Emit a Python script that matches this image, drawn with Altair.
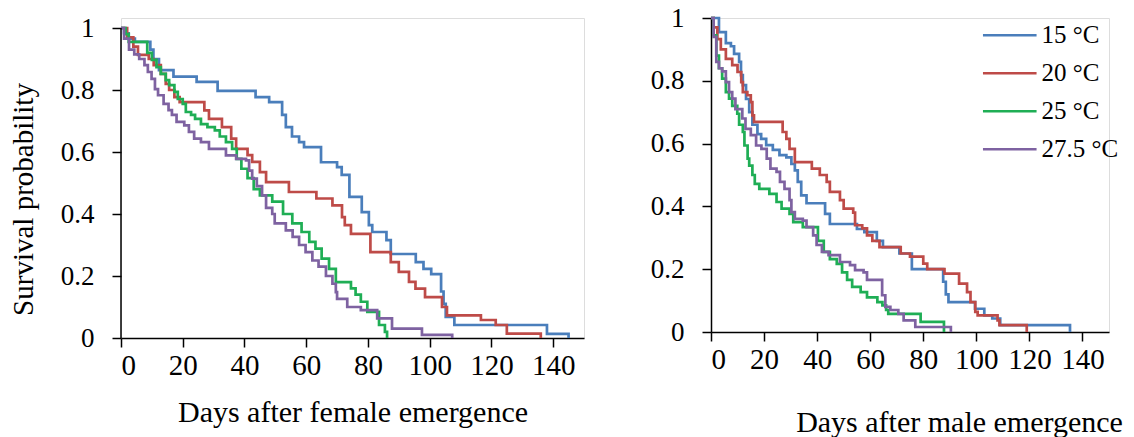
import altair as alt
import pandas as pd

series_labels = ["15 °C", "20 °C", "25 °C", "27.5 °C"]
series_colors = ["#4A7EBB", "#BE4B48", "#1FAE55", "#7E62A1"]
x_ticks = [0, 20, 40, 60, 80, 100, 120, 140]
y_ticks = [0, 0.2, 0.4, 0.6, 0.8, 1]

# ---------------- females ----------------
f15_days = [0, 1, 2.5, 4.5, 9.5, 10.5, 12.3, 17, 24.5, 31.3, 43.6, 48, 52.2, 53.4, 55.4, 57.7, 59.3, 64.8,
            70, 71.5, 74, 78, 80.3, 81.4, 86, 87.4, 95.5, 98, 100.5, 103.7, 104.5, 105.2, 108, 138, 145]
f15_surv = [1.0, 0.983, 0.966, 0.955, 0.93, 0.9, 0.864, 0.843, 0.826, 0.797, 0.777, 0.761, 0.72, 0.68, 0.65,
            0.632, 0.616, 0.567, 0.551, 0.526, 0.455, 0.406, 0.364, 0.342, 0.316, 0.271, 0.245, 0.223, 0.206,
            0.15, 0.11, 0.068, 0.042, 0.013, 0.0]

f20_days = [0, 2, 4, 5.5, 9, 10.6, 12.9, 14.5, 15.6, 17.3, 19, 27, 28.5, 32.7, 35.7, 37.3, 41, 42.5, 45, 47,
            54.4, 63.3, 68.5, 71.6, 72.5, 74.5, 80.8, 87.4, 90, 93.3, 95.4, 98.5, 104, 105.6, 116.6, 121.4,
            125, 136]
f20_surv = [1.0, 0.97, 0.94, 0.913, 0.9, 0.88, 0.852, 0.82, 0.8, 0.777, 0.761, 0.734, 0.707, 0.68, 0.643, 0.61,
            0.59, 0.568, 0.535, 0.503, 0.471, 0.45, 0.428, 0.39, 0.364, 0.336, 0.277, 0.245, 0.213, 0.181,
            0.159, 0.132, 0.1, 0.073, 0.058, 0.042, 0.014, 0.0]

f25_days = [0, 1.5, 2.5, 8.5, 10, 11.5, 12.9, 14.5, 15.6, 17.3, 18.4, 20, 21, 22.7, 24, 25.9, 28, 30.4, 32,
            34, 36, 37.5, 39, 41, 43, 45, 49, 52.5, 55.5, 58.5, 61, 63, 65, 67.4, 69.6, 74.5, 76, 77.7, 79.8,
            83.6, 85.5, 86.2]
f25_surv = [1.0, 0.98, 0.955, 0.92, 0.897, 0.874, 0.852, 0.832, 0.816, 0.794, 0.771, 0.755, 0.729, 0.72, 0.707,
            0.69, 0.68, 0.67, 0.65, 0.632, 0.61, 0.578, 0.546, 0.516, 0.48, 0.46, 0.44, 0.4, 0.37, 0.342, 0.31,
            0.288, 0.256, 0.223, 0.18, 0.16, 0.14, 0.117, 0.084, 0.042, 0.02, 0.0]

f27_days = [0, 1, 2.6, 4.3, 5.9, 7.6, 8.7, 9.9, 11, 12, 13.8, 15.4, 16.5, 18, 20.5, 22, 23.7, 25.9, 28.5, 34,
            37.3, 40.5, 41.5, 42.5, 44, 45.7, 47, 49, 49.8, 53.4, 55.6, 57.7, 59.8, 62, 64, 66.4, 68.5, 69.6,
            70, 73.3, 77.7, 83, 87.8, 97.5, 107.3]
f27_surv = [1.0, 0.966, 0.93, 0.915, 0.9, 0.88, 0.858, 0.836, 0.803, 0.783, 0.755, 0.735, 0.72, 0.697, 0.686,
            0.665, 0.643, 0.632, 0.61, 0.589, 0.578, 0.573, 0.54, 0.514, 0.49, 0.46, 0.42, 0.4, 0.37, 0.347,
            0.326, 0.3, 0.277, 0.25, 0.23, 0.2, 0.175, 0.148, 0.126, 0.1, 0.09, 0.063, 0.03, 0.01, 0.0]

# ---------------- males ----------------
m15_days = [0, 3, 5.6, 7.5, 8.7, 10.6, 11.3, 12, 13.2, 14.4, 15.6, 17.5, 18.9, 20.8, 23.3, 25.8, 28.4, 30.3,
            31.6, 32.7, 34, 36, 43, 44.8, 55, 57.8, 62.5, 64.8, 71, 75.7, 87.5, 88.5, 89.5, 99.5, 103, 106,
            109, 135.3]
m15_surv = [1.0, 0.955, 0.92, 0.91, 0.886, 0.86, 0.818, 0.786, 0.742, 0.7, 0.66, 0.63, 0.615, 0.595, 0.58,
            0.563, 0.556, 0.535, 0.515, 0.478, 0.435, 0.41, 0.376, 0.344, 0.328, 0.318, 0.29, 0.27, 0.25, 0.2,
            0.16, 0.12, 0.095, 0.074, 0.053, 0.043, 0.022, 0.0]

m20_days = [0, 1, 2.4, 3.7, 5.6, 8, 10, 11.4, 12, 13.7, 15, 15.6, 16.2, 27, 28.4, 29.6, 31.6, 38, 41, 43.6,
            44.8, 48.6, 50, 53.6, 54.3, 57, 58.8, 60.8, 63.5, 71.5, 75, 80, 81.5, 88, 93.5, 96.5, 97.8, 99.6,
            100.5, 108, 108.7, 119]
m20_surv = [1.0, 0.97, 0.933, 0.9, 0.87, 0.85, 0.828, 0.796, 0.764, 0.754, 0.732, 0.69, 0.669, 0.637, 0.615,
            0.583, 0.541, 0.52, 0.5, 0.478, 0.446, 0.42, 0.393, 0.38, 0.34, 0.33, 0.308, 0.29, 0.27, 0.25,
            0.24, 0.218, 0.2, 0.186, 0.154, 0.127, 0.095, 0.064, 0.053, 0.037, 0.022, 0.0]

m25_days = [0, 1, 2, 3, 4.2, 5.6, 6.8, 8, 9.9, 10.6, 12, 12.6, 13.8, 14.4, 15.6, 16.5, 18.2, 22, 24.7, 26.6,
            29.6, 31, 34.6, 40.3, 42.5, 44.8, 47.4, 49.4, 51.3, 53.2, 56.4, 58.8, 62.7, 64.6, 66, 66.8, 79,
            87.8]
m25_surv = [1.0, 0.945, 0.88, 0.84, 0.807, 0.764, 0.743, 0.72, 0.695, 0.66, 0.637, 0.594, 0.552, 0.53, 0.5,
            0.472, 0.456, 0.44, 0.414, 0.393, 0.376, 0.35, 0.334, 0.29, 0.255, 0.232, 0.217, 0.19, 0.166,
            0.144, 0.127, 0.11, 0.095, 0.085, 0.07, 0.058, 0.032, 0.0]

m27_days = [0, 1, 2, 3, 4.2, 5.6, 6.8, 8, 9.2, 11.8, 13, 15, 17, 19, 21, 22.4, 24.7, 26, 27.7, 29.6, 30.3,
            31.6, 34.6, 36, 38.5, 39.8, 41.8, 44.3, 48.6, 52.4, 54.3, 57.5, 58.8, 64.5, 65.7, 67.6, 70.6, 72.6,
            77, 90.4]
m27_surv = [1.0, 0.94, 0.86, 0.84, 0.83, 0.796, 0.764, 0.743, 0.71, 0.68, 0.647, 0.627, 0.594, 0.583, 0.552,
            0.52, 0.51, 0.478, 0.456, 0.42, 0.382, 0.36, 0.355, 0.334, 0.308, 0.277, 0.255, 0.245, 0.223,
            0.213, 0.197, 0.19, 0.166, 0.117, 0.08, 0.07, 0.058, 0.037, 0.016, 0.0]


def build(days_lists, surv_lists):
    rows = []
    for lab, ds, ss in zip(series_labels, days_lists, surv_lists):
        for i, (d, s) in enumerate(zip(ds, ss)):
            rows.append({"series": lab, "day": d, "surv": s, "ord": i})
    return pd.DataFrame(rows)


fem = build([f15_days, f20_days, f25_days, f27_days], [f15_surv, f20_surv, f25_surv, f27_surv])
mal = build([m15_days, m20_days, m25_days, m27_days], [m15_surv, m20_surv, m25_surv, m27_surv])

FONT = "Liberation Serif"
color = alt.Color("series:N", scale=alt.Scale(domain=series_labels, range=series_colors), legend=None)
xscale = alt.Scale(domain=[0, 150], nice=False)

ax_common = dict(grid=False, domainColor="black", domainWidth=1.5, tickColor="black", tickWidth=1.5,
                 tickSize=9, labelFont=FONT, labelColor="black", titleFont=FONT, titleColor="black",
                 titleFontWeight="normal")


def panel(df, yscale, xtitle, ytitle, xtitle_pad, xtitle_x=None, ydomain=True):
    xa = dict(values=x_ticks, title=xtitle, labelFontSize=29, labelPadding=4, titlePadding=xtitle_pad,
              titleFontSize=30, **ax_common)
    if xtitle_x is not None:
        xa["titleX"] = xtitle_x
    ya = dict(values=y_ticks, format="~g", labelFontSize=27, labelPadding=18, domain=ydomain,
              titleFontSize=29, **ax_common)
    if ytitle:
        ya.update(title=ytitle, titlePadding=22, titleY=181)
    else:
        ya.update(title=None)
    return alt.Chart(df).mark_line(interpolate="step-after", strokeWidth=2.7).encode(
        x=alt.X("day:Q", scale=xscale, axis=alt.Axis(**xa)),
        y=alt.Y("surv:Q", scale=yscale, axis=alt.Axis(**ya)),
        color=color,
        order="ord:Q",
        detail="series:N",
    )


# female panel: plot area 10 px taller on top so its y=1 sits lower than the male panel's
lscale = alt.Scale(domain=[0, 1 + 10 / 310], nice=False)
axis_line = pd.DataFrame({"y0": [min(y_ticks)], "y1": [max(y_ticks)]})
left_axis = alt.Chart(axis_line).mark_rule(color="black", strokeWidth=1.5).encode(
    x=alt.value(0), y=alt.Y("y0:Q", scale=lscale, axis=None), y2="y1:Q")
left = alt.layer(
    panel(fem, lscale, "Days after female emergence", "Survival probability", 17, ydomain=False),
    left_axis,
).resolve_axis(y="independent").properties(width=463, height=320)

# male panel with legend drawn inside
rscale = alt.Scale(domain=[0, 1], nice=False)
leg = pd.DataFrame({"series": series_labels})
leg["i"] = range(len(series_labels))
leg["ly"] = 0.945 - leg["i"] * 0.121
leg["lx1"] = 102.5
leg["lx2"] = 122.7
leg["lxt"] = 124.6

leg_rule = alt.Chart(leg).mark_rule(strokeWidth=2.7).encode(
    x=alt.X("lx1:Q", scale=xscale), x2="lx2:Q", y=alt.Y("ly:Q", scale=rscale), color=color)
leg_text = alt.Chart(leg).mark_text(align="left", baseline="middle", font=FONT, fontSize=25,
                                     color="black").encode(
    x=alt.X("lxt:Q", scale=xscale), y=alt.Y("ly:Q", scale=rscale), text="series:N")

right = alt.layer(panel(mal, rscale, "Days after male emergence", None, 33, 248), leg_rule, leg_text).properties(
    width=398, height=314)

chart = alt.hconcat(left, right, spacing=64).properties(
    padding={"left": 8, "top": 3, "right": 0, "bottom": 0}
).configure_view(stroke=None).configure(background="white")

chart.save("out.html", embed_options={"renderer": "svg", "actions": False})
